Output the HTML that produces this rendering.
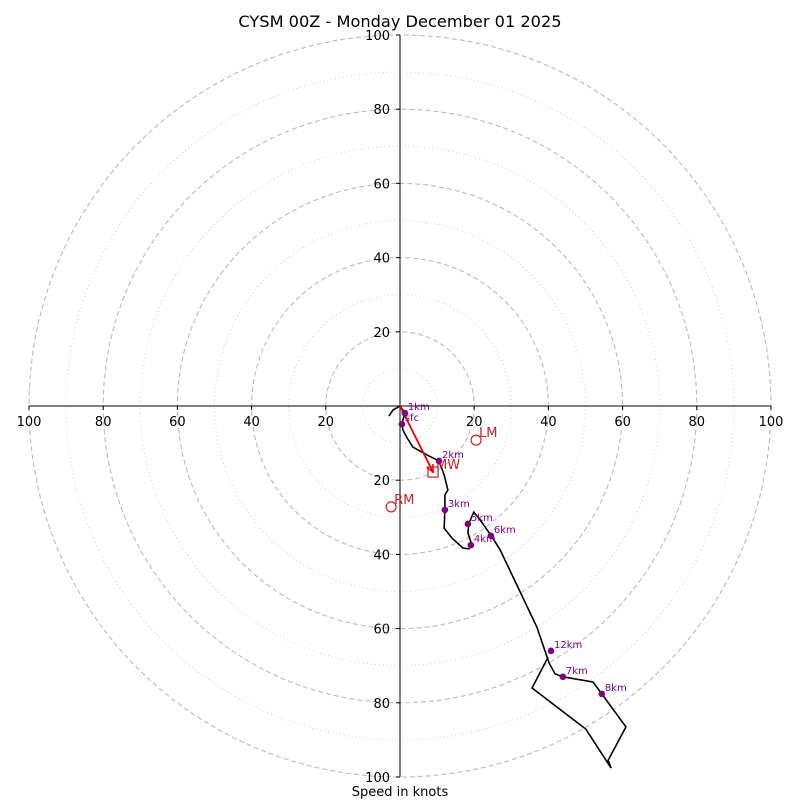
<!DOCTYPE html>
<html><head><meta charset="utf-8"><style>
html,body{margin:0;padding:0;background:#fff}
svg{display:block;font-family:"DejaVu Sans","Liberation Sans",sans-serif}
</style></head><body>
<svg id="chart" width="800" height="800" xmlns="http://www.w3.org/2000/svg">
<text x="400" y="27" text-anchor="middle" font-size="16.2">CYSM 00Z - Monday December 01 2025</text>
<text x="400" y="796" text-anchor="middle" font-size="13">Speed in knots</text>
<g id="rings"></g><g id="axes"></g><g id="series"></g>
</svg>
<script>
const ringValues=[10,20,30,40,50,60,70,80,90,100];
const tickValues=[20,40,60,80,100];
const pathU=[-3.0,-1.9,0,1.3,0.5,0.8,1.9,3.5,7.3,10.5,11.9,12.9,12.1,12.1,11.9,14.0,17.0,18.6,19.4,18.3,18.6,19.9,21.6,24.8,27.0,36.9,40.2,41.8,43.9,52.0,54.4,60.9,56.1,56.9,50.1,35.6,39.9];
const pathV=[-2.7,-1.1,0,-1.9,-4.9,-6.5,-8.6,-11.1,-13.2,-14.8,-18.6,-22.6,-24.0,-28.0,-32.9,-35.6,-38.3,-38.5,-37.5,-34.2,-31.5,-28.6,-30.7,-35.3,-38.8,-59.6,-69.3,-72.2,-73.0,-74.4,-77.6,-86.5,-95.5,-97.6,-87.1,-76.0,-67.7];
const markerLabels=['1km','sfc','2km','3km','5km','4km','6km','12km','7km','8km'];
const markerU=[1.3,0.5,10.5,12.1,18.3,19.1,24.5,40.7,43.9,54.4];
const markerV=[-1.9,-4.9,-14.8,-28.0,-31.8,-37.5,-35.0,-66.0,-73.0,-77.6];
const motionLabels=['MW','LM','RM'];
const motionU=[8.9,20.5,-2.4];
const motionV=[-17.8,-9.2,-27.2];
const CX=400,CY=406,S=3.71;
const sx=u=>CX+u*S, sy=v=>CY-v*S;
const NS='http://www.w3.org/2000/svg';
function mk(p,tag,a){const e=document.createElementNS(NS,tag);for(const k in a)e.setAttribute(k,a[k]);p.appendChild(e);return e;}
const rings=document.getElementById('rings'),axes=document.getElementById('axes'),ser=document.getElementById('series');
ringValues.forEach(r=>{
 const dashed=r%20===0;
 const c=mk(rings,'circle',{cx:CX,cy:CY,r:r*S,fill:'none',stroke:dashed?'#bbb':'#ccc','stroke-width':dashed?1.1:1,'stroke-dasharray':dashed?'5,3':'1,3'});
 
 
});
let l=mk(axes,'line',{x1:sx(-100),x2:sx(100),y1:CY,y2:CY,stroke:'#000','stroke-width':1});


l=mk(axes,'line',{x1:CX,x2:CX,y1:sy(100),y2:sy(-100),stroke:'#000','stroke-width':1});


tickValues.forEach(t=>{
 [t,-t].forEach(v=>{
  let tk=mk(axes,'line',{x1:sx(v),x2:sx(v),y1:CY,y2:CY+4,stroke:'#000'});
  
  
  let tx=mk(axes,'text',{x:sx(v),y:CY+20,'text-anchor':'middle','font-size':13});
  tx.textContent=t;
  
  
  tk=mk(axes,'line',{x1:CX-4,x2:CX,y1:sy(v),y2:sy(v),stroke:'#000'});
  
  
  tx=mk(axes,'text',{x:CX-10,y:sy(v)+5,'text-anchor':'end','font-size':13});
  tx.textContent=t;
  
  
 });
});
const pl=mk(ser,'polyline',{points:pathU.map((u,i)=>sx(u)+','+sy(pathV[i])).join(' '),fill:'none',stroke:'#000','stroke-width':1.6});


const ax2=sx(motionU[0]),ay2=sy(motionV[0]);
const ar=mk(ser,'line',{x1:CX,y1:CY,x2:ax2,y2:ay2,stroke:'#e00','stroke-width':1.8});


const ang=Math.atan2(ay2-CY,ax2-CX);
const ah=mk(ser,'polyline',{points:[[ax2-8*Math.cos(ang-0.45),ay2-8*Math.sin(ang-0.45)],[ax2,ay2],[ax2-8*Math.cos(ang+0.45),ay2-8*Math.sin(ang+0.45)]].map(p=>p.join(',')).join(' '),fill:'none',stroke:'#e00','stroke-width':1.5});


motionLabels.forEach((lab,i)=>{
 const x=sx(motionU[i]),y=sy(motionV[i]);
 let m;
 if(lab==='MW') m=mk(ser,'rect',{x:x-5,y:y-5,width:10,height:10,fill:'none',stroke:'#c22','stroke-width':1.2});
 else m=mk(ser,'circle',{cx:x,cy:y,r:5,fill:'none',stroke:'#c22','stroke-width':1.2});
 
 
 const t=mk(ser,'text',{x:x+3,y:y-3,'font-size':13,fill:'#c22'});
 t.textContent=lab;
 
 
});
markerLabels.forEach((lab,i)=>{
 const x=sx(markerU[i]),y=sy(markerV[i]);
 const c=mk(ser,'circle',{cx:x,cy:y,r:3.3,fill:'#800080'});
 
 
 const t=mk(ser,'text',{x:x+3,y:y-3,'font-size':10,fill:'#800080'});
 t.textContent=lab;
 
 
});
</script>
</body></html>
